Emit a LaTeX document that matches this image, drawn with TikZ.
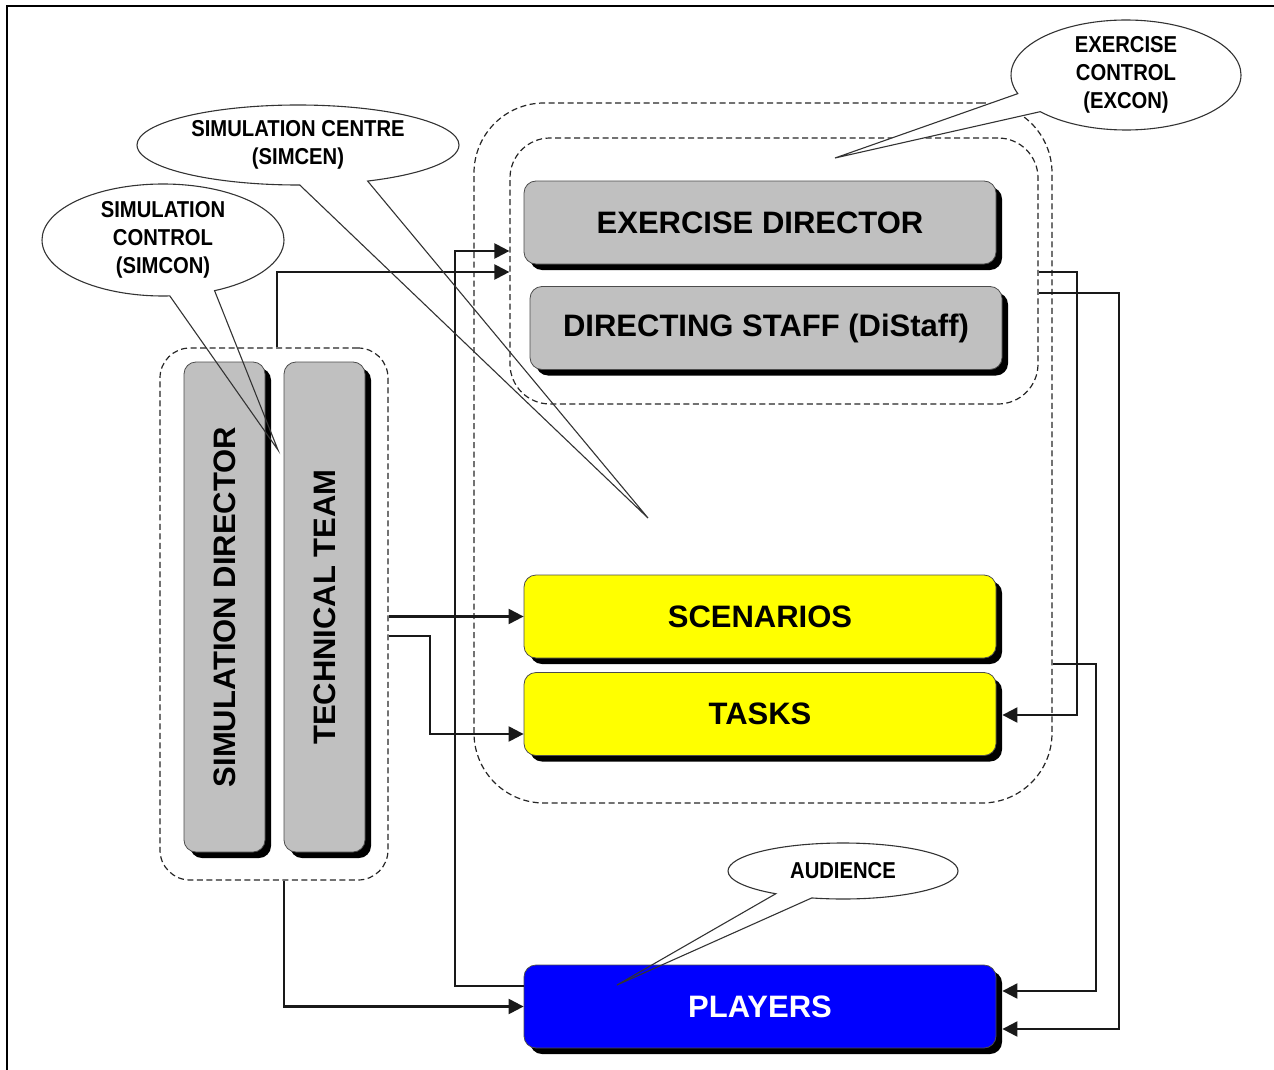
\documentclass[tikz,border=0pt]{standalone}
\usepackage{fontspec}
\setmainfont{Liberation Sans}
\newfontfamily\calloutfont{Liberation Sans}[FakeStretch=0.88]
\usetikzlibrary{shapes.callouts,shadows,arrows.meta}
\definecolor{cardgrey}{RGB}{192,192,192}
\definecolor{cardyellow}{RGB}{255,255,0}
\definecolor{cardblue}{RGB}{0,0,255}
\begin{document}
\begin{tikzpicture}[x=1pt,y=-1pt,
  card/.style={draw=black!70, line width=0.8pt, rounded corners=12pt, inner sep=0pt,
    font=\fontsize{31}{31}\selectfont\bfseries,
    drop shadow={shadow xshift=6pt, shadow yshift=-6pt, fill=black, opacity=1}},
  greycard/.style={card, fill=cardgrey},
  yellowcard/.style={card, fill=cardyellow},
  bluecard/.style={card, fill=cardblue, text=white},
  wide/.style={minimum width=472pt, minimum height=83pt},
  tall/.style={minimum width=81pt, minimum height=490pt},
  group/.style={draw=black!85, dash pattern=on 6pt off 3.5pt, line width=1.2pt, inner sep=0pt},
  conn/.style={draw=black!90, line width=2.2pt},
  arr/.style={conn, -{Triangle[length=15pt,width=15pt]}},
  bubble/.style={ellipse callout, draw=black!80, line width=1.1pt, inner sep=0pt,
    align=center, font=\fontsize{23}{28}\calloutfont\bfseries},
]
\useasboundingbox (0,0) rectangle (1274,1070);
% frame
\draw[line width=2.5pt] (7,1070) -- (7,6) -- (1274,6);

% dashed groupings
\node[group, rounded corners=70pt, minimum width=578pt, minimum height=700pt] (simcen) at (763,453) {};
\node[group, rounded corners=40pt, minimum width=528pt, minimum height=266pt] (excon) at (774,271) {};
\node[group, rounded corners=30pt, minimum width=228pt, minimum height=532pt] (simcon) at (274,614) {};

% boxes
\node[greycard, wide] (ed) at (760,222.5) {EXERCISE DIRECTOR};
\node[greycard, wide] (ds) at (766,328) {DIRECTING STAFF (DiStaff)};
\node[yellowcard, wide] (sc) at (760,616.5) {SCENARIOS};
\node[yellowcard, wide] (tk) at (760,714) {TASKS};
\node[bluecard, wide] (pl) at (760,1006.5) {PLAYERS};
\node[greycard, tall] (sd) at (224.5,607) {\rotatebox{90}{SIMULATION DIRECTOR}};
\node[greycard, tall] (tt) at (324.5,607) {\rotatebox{90}{TECHNICAL TEAM}};

\coordinate (tkr) at ([xshift=6pt]tk.east);
\coordinate (plr) at ([xshift=6pt]pl.east);

% connectors
\draw[arr] ([xshift=3pt]simcon.north) |- (excon.west |- 0,272);
\draw[arr] (pl.west |- 0,986) -| (455,251) -- (excon.west |- 0,251);
\draw[arr] ([xshift=10pt]simcon.south) |- (pl.west);
\draw[arr] (simcon.east |- sc.west) -- (sc.west);
\draw[arr] (simcon.east |- 0,636) -| (430,734) -- (tk.west |- 0,734);
\draw[arr] (excon.east |- 0,272) -| (1077,715) -- (tkr |- 0,715);
\draw[arr] (excon.east |- 0,293) -| (1119,1029) -- (plr |- 0,1029);
\draw[arr] (simcen.east |- 0,664) -| (1096,991) -- (plr |- 0,991);

% callouts
\node[bubble, minimum width=322pt, minimum height=80pt,
  callout absolute pointer={(648,518)}, callout pointer arc=25] (simcenlbl) at (298,145)
  {SIMULATION CENTRE\\(SIMCEN)};
\node[bubble, minimum width=242pt, minimum height=112pt,
  callout absolute pointer={(278,450)}, callout pointer arc=22] (simconlbl) at (163,240)
  {SIMULATION\\CONTROL\\(SIMCON)};
\node[bubble, fill=white, minimum width=230pt, minimum height=110pt,
  callout absolute pointer={(835,158)}, callout pointer arc=22] (exconlbl) at (1126,75)
  {EXERCISE\\CONTROL\\(EXCON)};
\node[bubble, minimum width=230pt, minimum height=56pt,
  callout absolute pointer={(617,985)}, callout pointer arc=20] (audlbl) at (843,871)
  {AUDIENCE};
\end{tikzpicture}
\end{document}
